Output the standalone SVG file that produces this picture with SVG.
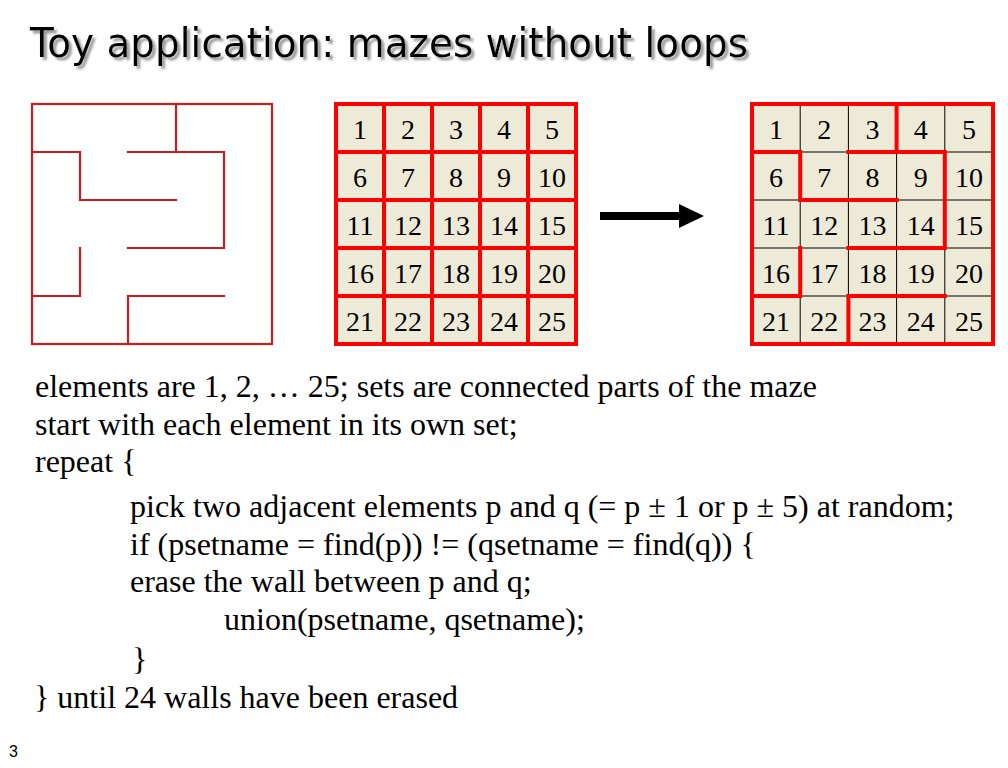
<svg xmlns="http://www.w3.org/2000/svg" width="1008" height="768" viewBox="0 0 1008 768">
  <style>
    .title { font-family: "DejaVu Sans", "Liberation Sans", sans-serif; font-size: 41px; }
    .body { font-family: "Liberation Serif", "Times New Roman", serif; font-size: 32px; fill: #000; }
    .num { font-family: "Liberation Serif", "Times New Roman", serif; font-size: 28px; fill: #000; text-anchor: middle; }
    .maze { stroke: #cc1c1c; stroke-width: 2.2; fill: none; stroke-linecap: square; }
    .redgrid { stroke: #ff0000; stroke-width: 4; fill: none; stroke-linecap: square; }
    .thin { stroke: #000; stroke-width: 1; fill: none; }
    .cellbg { fill: #eeead8; }
  </style>
  <defs>
    <filter id="shadow" x="-5%" y="-30%" width="110%" height="160%">
      <feGaussianBlur in="SourceAlpha" stdDeviation="1.2" result="b"/>
      <feOffset in="b" dx="2.5" dy="2.5" result="o"/>
      <feFlood flood-color="#9a9a9a"/>
      <feComposite in2="o" operator="in" result="s"/>
      <feMerge>
        <feMergeNode in="s"/>
        <feMergeNode in="SourceGraphic"/>
      </feMerge>
    </filter>
    <marker id="head" markerUnits="userSpaceOnUse" markerWidth="26" markerHeight="24" refX="1" refY="12" orient="auto">
      <path d="M0,0 L25,12 L0,24 Z" fill="#000"/>
    </marker>
  </defs>
  <rect width="1008" height="768" fill="#fff"/>

  <g id="title">
    <text class="title" x="30" y="57" fill="#000" filter="url(#shadow)" textLength="718" lengthAdjust="spacingAndGlyphs">Toy application: mazes without loops</text>
  </g>

  <g id="maze">
    <rect class="maze" x="32" y="104" width="240" height="240"/>
    <path class="maze" d="M176,104 V152 M32,152 H80 V200 H176 M128,152 H224 V248 H128 M80,248 V296 H32 M128,344 V296 H224"/>
  </g>

  <g id="grid-initial">
    <rect class="cellbg" x="336" y="104" width="240" height="240"/>
    <path class="redgrid" d="M384,104 V344 M432,104 V344 M480,104 V344 M528,104 V344 M336,152 H576 M336,200 H576 M336,248 H576 M336,296 H576"/>
    <rect class="redgrid" x="336" y="104" width="240" height="240"/>
    <text class="num" x="360" y="139">1</text><text class="num" x="408" y="139">2</text><text class="num" x="456" y="139">3</text><text class="num" x="504" y="139">4</text><text class="num" x="552" y="139">5</text>
    <text class="num" x="360" y="187">6</text><text class="num" x="408" y="187">7</text><text class="num" x="456" y="187">8</text><text class="num" x="504" y="187">9</text><text class="num" x="552" y="187">10</text>
    <text class="num" x="360" y="235">11</text><text class="num" x="408" y="235">12</text><text class="num" x="456" y="235">13</text><text class="num" x="504" y="235">14</text><text class="num" x="552" y="235">15</text>
    <text class="num" x="360" y="283">16</text><text class="num" x="408" y="283">17</text><text class="num" x="456" y="283">18</text><text class="num" x="504" y="283">19</text><text class="num" x="552" y="283">20</text>
    <text class="num" x="360" y="331">21</text><text class="num" x="408" y="331">22</text><text class="num" x="456" y="331">23</text><text class="num" x="504" y="331">24</text><text class="num" x="552" y="331">25</text>
  </g>

  <g id="connectors">
    <line x1="600" y1="216" x2="680" y2="216" stroke="#000" stroke-width="8" marker-end="url(#head)"/>
  </g>

  <g id="grid-final">
    <rect class="cellbg" x="752" y="104" width="241" height="240"/>
    <path class="thin" d="M800.2,104 V344 M848.4,104 V344 M896.6,104 V344 M944.8,104 V344 M752,152 H993 M752,200 H993 M752,248 H993 M752,296 H993"/>
    <path class="redgrid" d="M896.6,104 V152 M752,152 H800.2 V200 H896.6 M848.4,152 H944.8 V248 H848.4 M800.2,248 V296 H752 M848.4,344 V296 H944.8"/>
    <rect class="redgrid" x="752" y="104" width="241" height="240"/>
    <text class="num" x="776.1" y="139">1</text><text class="num" x="824.3" y="139">2</text><text class="num" x="872.5" y="139">3</text><text class="num" x="920.7" y="139">4</text><text class="num" x="968.9" y="139">5</text>
    <text class="num" x="776.1" y="187">6</text><text class="num" x="824.3" y="187">7</text><text class="num" x="872.5" y="187">8</text><text class="num" x="920.7" y="187">9</text><text class="num" x="968.9" y="187">10</text>
    <text class="num" x="776.1" y="235">11</text><text class="num" x="824.3" y="235">12</text><text class="num" x="872.5" y="235">13</text><text class="num" x="920.7" y="235">14</text><text class="num" x="968.9" y="235">15</text>
    <text class="num" x="776.1" y="283">16</text><text class="num" x="824.3" y="283">17</text><text class="num" x="872.5" y="283">18</text><text class="num" x="920.7" y="283">19</text><text class="num" x="968.9" y="283">20</text>
    <text class="num" x="776.1" y="331">21</text><text class="num" x="824.3" y="331">22</text><text class="num" x="872.5" y="331">23</text><text class="num" x="920.7" y="331">24</text><text class="num" x="968.9" y="331">25</text>
  </g>

  <g id="text-body">
    <text class="body" x="35" y="397">elements are 1, 2, … 25; sets are connected parts of the maze</text>
    <text class="body" x="35" y="435">start with each element in its own set;</text>
    <text class="body" x="35" y="472">repeat {</text>
    <text class="body" x="130" y="517">pick two adjacent elements p and q (= p ± 1 or p ± 5) at random;</text>
    <text class="body" x="130" y="555">if (psetname = find(p)) != (qsetname = find(q)) {</text>
    <text class="body" x="130" y="592">erase the wall between p and q;</text>
    <text class="body" x="224" y="630">union(psetname, qsetname);</text>
    <text class="body" x="132" y="670">}</text>
    <text class="body" x="34" y="708">} until 24 walls have been erased</text>
  </g>

  <g id="page-number">
    <text x="9" y="757" font-family="Liberation Sans, Arial, sans-serif" font-size="16" fill="#000">3</text>
  </g>
</svg>
